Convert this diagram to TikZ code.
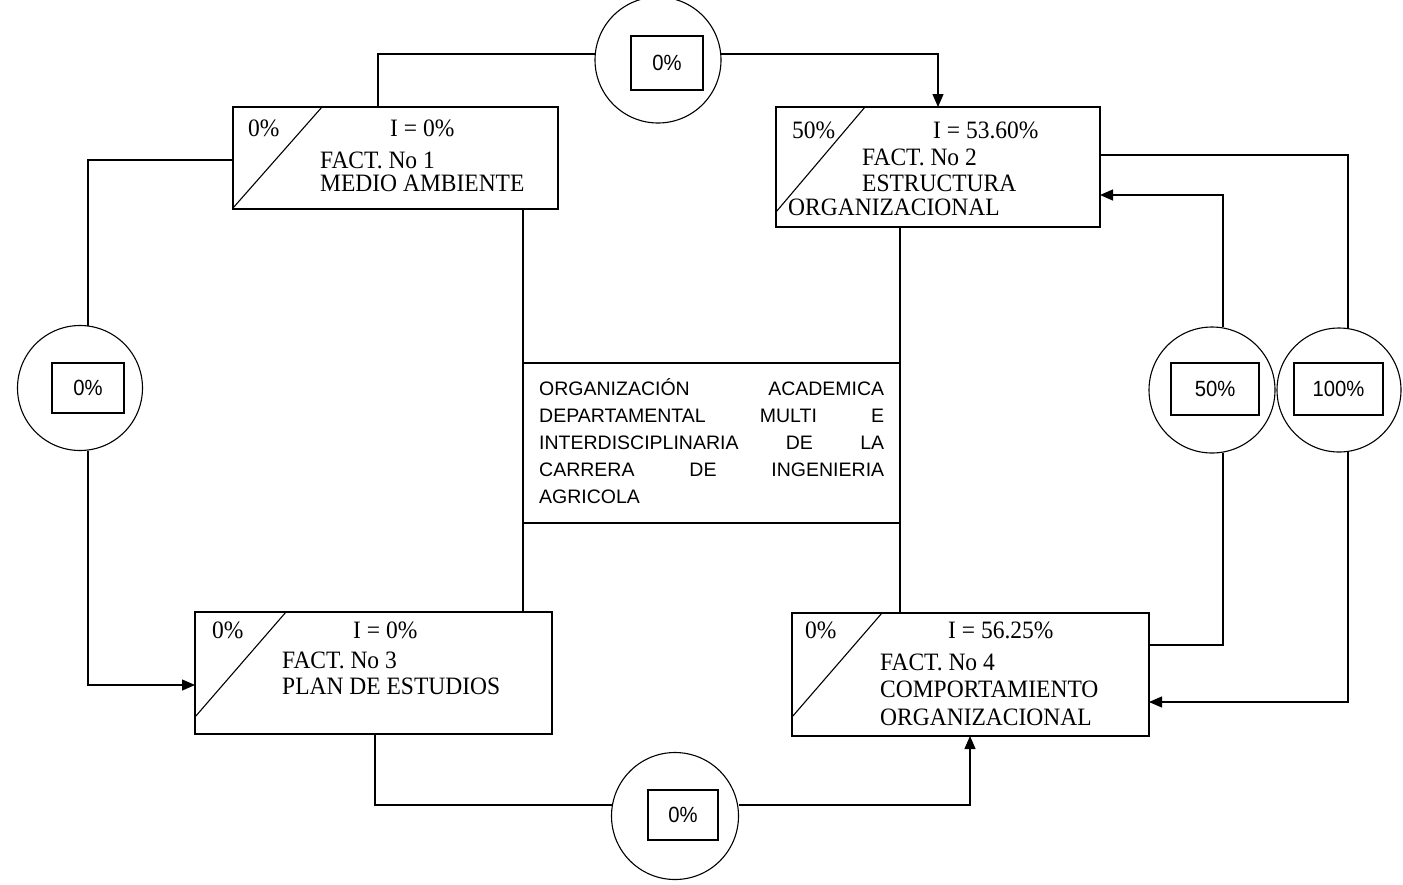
\documentclass[tikz,border=0pt]{standalone}
\usepackage{fontspec}
\usetikzlibrary{arrows.meta,calc}
\newfontfamily\boxserif[FakeStretch=0.94]{Liberation Serif}
\newfontfamily\boxsans{Liberation Sans}
\newfontfamily\valsans[FakeStretch=0.92]{Liberation Sans}
\begin{document}
\begin{tikzpicture}[x=1pt,y=-1pt,
  frame/.style={draw,line width=1.3pt,inner sep=0pt,outer sep=0pt},
  ring/.style={draw,circle,line width=1.1pt,inner sep=0pt,outer sep=0pt},
  valbox/.style={draw,line width=1.3pt,inner sep=0pt,outer sep=0pt,font=\valsans\fontsize{22}{24}\selectfont},
  btxt/.style={anchor=base west,inner sep=0pt,font=\boxserif\fontsize{25}{27}\selectfont},
  ctxt/.style={anchor=base west,inner sep=0pt,font=\boxsans\fontsize{19.5}{26}\selectfont},
  wire/.style={line width=1.2pt},
  arr/.style={wire,-{Triangle[length=13pt,width=11pt]}},
  diag/.style={line width=1.1pt}]
\useasboundingbox (0,0) rectangle (1403,884);

% factor boxes
\node[frame,minimum width=325pt,minimum height=102pt] (b1) at (395.5,158) {};
\node[frame,minimum width=324pt,minimum height=120pt] (b2) at (938,167) {};
\node[frame,minimum width=357pt,minimum height=122pt] (b3) at (373.5,673) {};
\node[frame,minimum width=357pt,minimum height=123pt] (b4) at (970.5,674.5) {};
% centre box
\node[frame,minimum width=377pt,minimum height=160pt] (cb) at (711.5,443) {};

% diagonals
\draw[diag] (233,208) -- (322,107);
\draw[diag] (776,212) -- (865,107);
\draw[diag] (195,717) -- (286,612);
\draw[diag] (792,717) -- (882,613);

% box 1 texts
\node[btxt] (t1a) at (248,136) {0\%};
\node[btxt] (t1b) at (390,136) {I = 0\%};
\node[btxt] (t1c) at (320,168) {FACT. No 1};
\node[btxt] (t1d) at (320,191) {MEDIO AMBIENTE};
% box 2 texts
\node[btxt] (t2a) at (792,138) {50\%};
\node[btxt] (t2b) at (933,138) {I = 53.60\%};
\node[btxt] (t2c) at (862,165) {FACT. No 2};
\node[btxt] (t2d) at (862,191) {ESTRUCTURA};
\node[btxt] (t2e) at (788,215) {ORGANIZACIONAL};
% box 3 texts
\node[btxt] (t3a) at (212,638) {0\%};
\node[btxt] (t3b) at (353,638) {I = 0\%};
\node[btxt] (t3c) at (282,668) {FACT. No 3};
\node[btxt] (t3d) at (282,694) {PLAN DE ESTUDIOS};
% box 4 texts
\node[btxt] (t4a) at (805,638) {0\%};
\node[btxt] (t4b) at (948,638) {I = 56.25\%};
\node[btxt] (t4c) at (880,670) {FACT. No 4};
\node[btxt] (t4d) at (880,697) {COMPORTAMIENTO};
\node[btxt] (t4e) at (880,725) {ORGANIZACIONAL};

% centre text
\node[ctxt] (ct1) at (539,395) {\makebox[345pt][s]{ORGANIZACIÓN ACADEMICA}};
\node[ctxt] (ct2) at (539,422) {\makebox[345pt][s]{DEPARTAMENTAL MULTI E}};
\node[ctxt] (ct3) at (539,449) {\makebox[345pt][s]{INTERDISCIPLINARIA DE LA}};
\node[ctxt] (ct4) at (539,476) {\makebox[345pt][s]{CARRERA DE INGENIERIA}};
\node[ctxt] (ct5) at (539,503) {AGRICOLA};

% circles with value boxes
\node[ring,minimum size=126pt] (c1) at (658,60) {};
\node[valbox,minimum width=72pt,minimum height=54pt] (v1) at (667,63) {0\%};
\node[ring,minimum size=125pt] (c2) at (80,388) {};
\node[valbox,minimum width=72pt,minimum height=50pt] (v2) at (88,388) {0\%};
\node[ring,minimum size=127pt] (c3) at (675,816) {};
\node[valbox,minimum width=70pt,minimum height=50pt] (v3) at (683,815) {0\%};
\node[ring,minimum size=126pt] (c4) at (1212,390) {};
\node[valbox,minimum width=88pt,minimum height=52pt] (v4) at (1215,389) {50\%};
\node[ring,minimum size=124pt] (c5) at (1339,390) {};
\node[valbox,minimum width=89pt,minimum height=52pt] (v5) at (1338.5,389) {100\%};

% connectors
\draw[wire] (b1.north -| 378,0) |- (c1.west |- 0,54);
\draw[arr] (c1.east |- 0,54) -| (b2.north -| 938,0);
\draw[wire] (b1.west |- 0,160) -| (88,0 |- c2.north);
\draw[arr] (88,0 |- c2.south) |- (b3.west |- 0,685);
\draw[wire] (b3.south -| 375,0) |- (c3.west |- 0,805);
\draw[arr] (c3.east |- 0,805) -| (b4.south -| 970,0);
\draw[arr] (1223,0 |- c4.north) |- (b2.east |- 0,195);
\draw[wire] (1223,0 |- c4.south) |- (b4.east |- 0,645);
\draw[wire] (b2.east |- 0,155) -| (1348,0 |- c5.north);
\draw[arr] (1348,0 |- c5.south) |- (b4.east |- 0,702);
% centre verticals
\draw[wire] (b1.south -| cb.west) -- (cb.north west);
\draw[wire] (cb.south west) -- (b3.north -| cb.west);
\draw[wire] (b2.south -| cb.east) -- (cb.north east);
\draw[wire] (cb.south east) -- (b4.north -| cb.east);
\end{tikzpicture}
\end{document}
